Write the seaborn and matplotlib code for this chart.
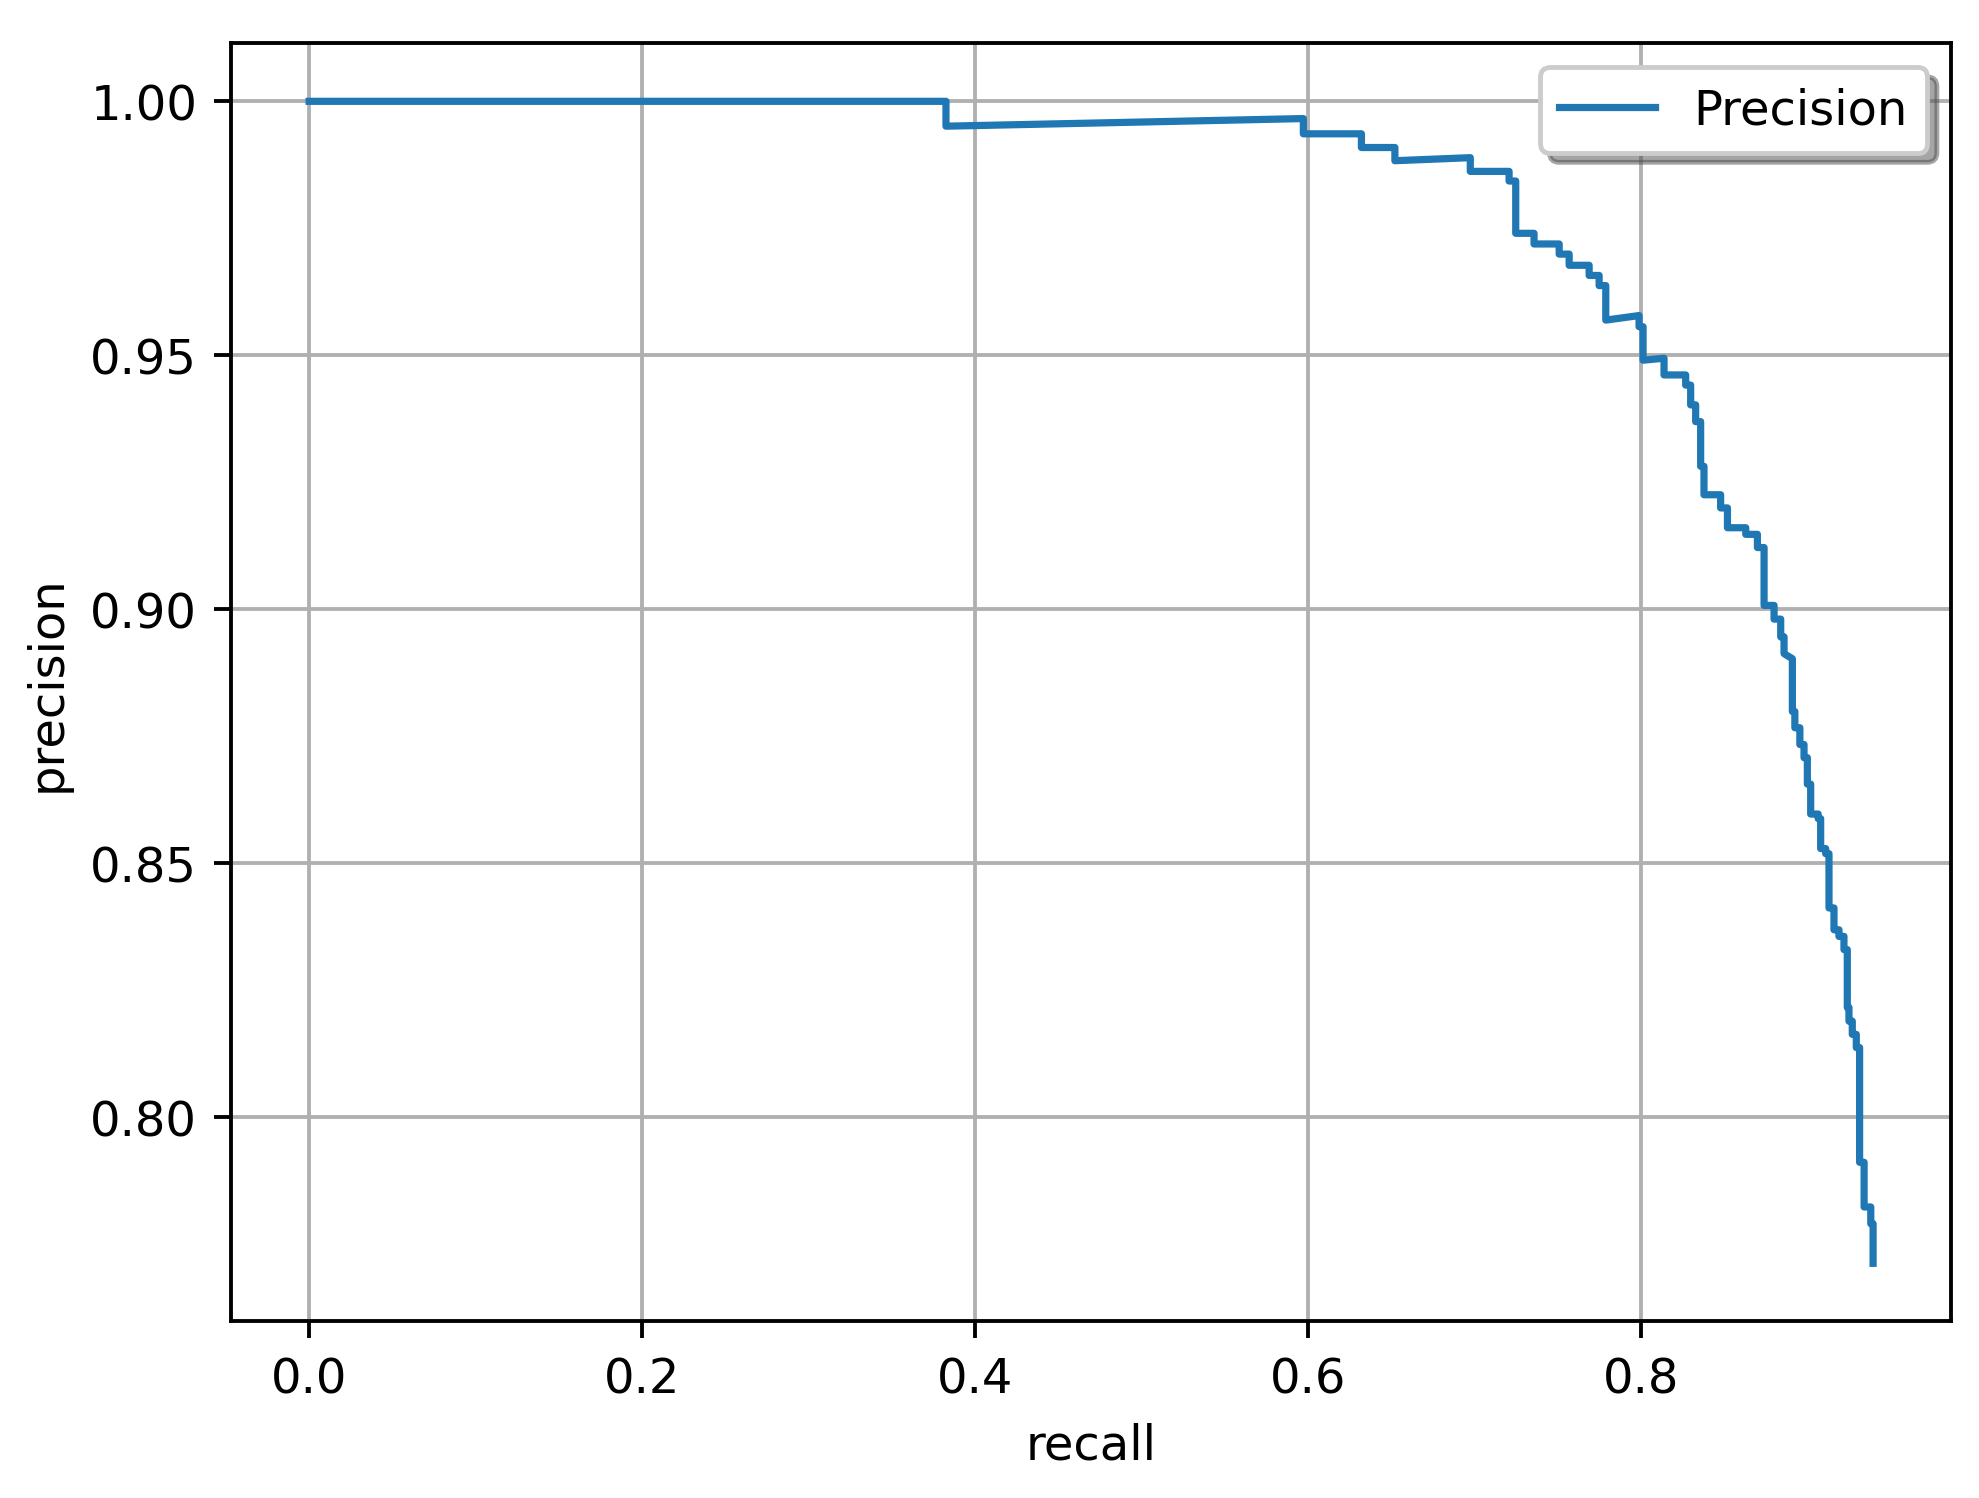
import numpy as np
import pandas as pd
import matplotlib
matplotlib.use("Agg")
import matplotlib.pyplot as plt
import seaborn as sns

# Precision-recall curve vertices
recall = [0.0, 0.3826, 0.3826, 0.5973, 0.5973, 0.6322, 0.6322, 0.6523, 0.6523,
          0.6976, 0.6976, 0.7209, 0.7209, 0.7249, 0.7249, 0.7359, 0.7359, 0.7510,
          0.7510, 0.7570, 0.7570, 0.7690, 0.7690, 0.7750, 0.7750, 0.7790, 0.7790,
          0.7990, 0.7990, 0.8014, 0.8014, 0.8140, 0.8140, 0.8270, 0.8270, 0.8300,
          0.8300, 0.8330, 0.8330, 0.8360, 0.8360, 0.8380, 0.8380, 0.8480, 0.8480,
          0.8521, 0.8521, 0.8631, 0.8631, 0.8701, 0.8701, 0.8741, 0.8741, 0.8801,
          0.8801, 0.8841, 0.8841, 0.8861, 0.8861, 0.8911, 0.8911, 0.8926, 0.8926,
          0.8956, 0.8956, 0.8981, 0.8981, 0.9001, 0.9001, 0.9021, 0.9021, 0.9066,
          0.9066, 0.9081, 0.9081, 0.9111, 0.9111, 0.9131, 0.9131, 0.9161, 0.9161,
          0.9191, 0.9191, 0.9221, 0.9221, 0.9241, 0.9241, 0.9251, 0.9251, 0.9271,
          0.9271, 0.9295, 0.9295, 0.9315, 0.9315, 0.9342, 0.9342, 0.9382, 0.9382,
          0.9396, 0.9396]
precision = [1.0, 1.0, 0.9951, 0.9966, 0.9936, 0.9936, 0.9909, 0.9909, 0.9883,
             0.9889, 0.9862, 0.9862, 0.9843, 0.9843, 0.9740, 0.9740, 0.9719, 0.9719,
             0.9699, 0.9699, 0.9677, 0.9677, 0.9657, 0.9657, 0.9637, 0.9637, 0.9569,
             0.9578, 0.9556, 0.9556, 0.9490, 0.9494, 0.9461, 0.9461, 0.9441, 0.9441,
             0.9402, 0.9402, 0.9369, 0.9369, 0.9281, 0.9281, 0.9225, 0.9225, 0.9199,
             0.9199, 0.9160, 0.9160, 0.9147, 0.9147, 0.9121, 0.9121, 0.9007, 0.9007,
             0.8980, 0.8980, 0.8945, 0.8945, 0.8912, 0.8902, 0.8798, 0.8798, 0.8766,
             0.8766, 0.8733, 0.8733, 0.8707, 0.8707, 0.8655, 0.8655, 0.8596, 0.8596,
             0.8587, 0.8587, 0.8528, 0.8528, 0.8518, 0.8518, 0.8411, 0.8411, 0.8368,
             0.8368, 0.8355, 0.8355, 0.8329, 0.8329, 0.8215, 0.8215, 0.8188, 0.8188,
             0.8162, 0.8162, 0.8136, 0.8136, 0.7910, 0.7910, 0.7822, 0.7822, 0.7789,
             0.7789, 0.7711]

df = pd.DataFrame({"recall": recall, "precision": precision})

fig, ax = plt.subplots(figsize=(1979 / 346, 1499 / 346), dpi=346)
fig.subplots_adjust(left=0.1167, right=0.986, top=0.9705, bottom=0.1178)

sns.lineplot(data=df, x="recall", y="precision", sort=False, estimator=None,
             color="#1f77b4", linewidth=1.5, label="Precision", ax=ax)

ax.set_xlabel("recall")
ax.set_ylabel("precision")
ax.grid(True)
ax.legend(loc="upper right", shadow=True)

fig.savefig("out.png", dpi=346)
